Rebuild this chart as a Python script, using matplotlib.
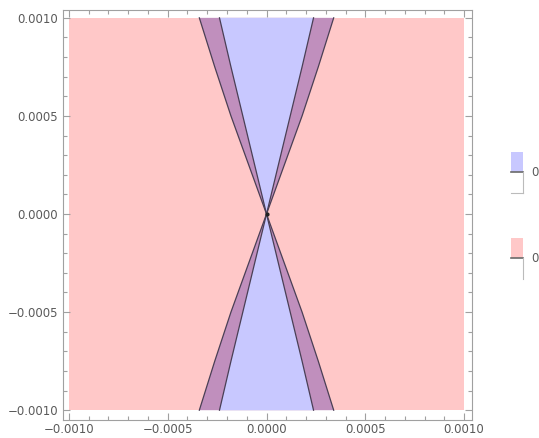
import matplotlib
matplotlib.use("Agg")
import matplotlib.pyplot as plt
import numpy as np
from matplotlib.patches import Rectangle
from matplotlib.lines import Line2D

# |y| levels and half-widths of the two wedge boundaries
y_levels = [0.0, 0.00025, 0.0005, 0.00075, 0.001]
inner_half = [0.0, 0.00006, 0.00012, 0.00018, 0.000238]   # blue / purple boundary
outer_half = [0.0, 0.00009, 0.00018, 0.000262, 0.00034]  # purple / pink boundary
ticks = [-0.001, -0.0005, 0.0, 0.0005, 0.001]
tick_labels = ["\u22120.0010", "\u22120.0005", "0.0000", "0.0005", "0.0010"]
legend_labels = ["0", "0"]

pink = "#ffc8c8"
blue = "#c8c8ff"
purple = "#c08fbd"
edge = "#4a3f55"
frame = "#a0a0a0"

fig = plt.figure(figsize=(5.39, 4.38), dpi=100)
ax = fig.add_axes([63 / 539, 18 / 438, (472 - 63) / 539, (420 - 10) / 438])

# full y from -0.001 to 0.001, both cones
yl = np.array(y_levels)
yy = np.concatenate([-yl[::-1], yl[1:]])
inn = np.concatenate([np.array(inner_half)[::-1], np.array(inner_half)[1:]])
out = np.concatenate([np.array(outer_half)[::-1], np.array(outer_half)[1:]])

lim = y_levels[-1]
ax.add_patch(Rectangle((-lim, -lim), 2 * lim, 2 * lim, facecolor=pink, edgecolor="none", zorder=1))
ax.fill_betweenx(yy, -out, out, facecolor=purple, edgecolor="none", zorder=2)
ax.fill_betweenx(yy, -inn, inn, facecolor=blue, edgecolor="none", zorder=3)
for xs in (-out, out, -inn, inn):
    ax.plot(xs, yy, color=edge, lw=0.9, zorder=4)
ax.plot([0], [0], "o", color="#222222", ms=2, zorder=5)

ax.set_xlim(-0.00103, 0.00104)
ax.set_ylim(-0.00105, 0.00104)
ax.set_xticks(ticks)
ax.set_xticklabels(tick_labels)
ax.set_yticks(ticks)
ax.set_yticklabels(tick_labels)
ax.set_xticks(np.arange(-10, 11) * 0.0001, minor=True)
ax.set_yticks(np.arange(-10, 11) * 0.0001, minor=True)
ax.tick_params(which="both", direction="in", top=True, right=True, color=frame,
               labelcolor="#5a5a5a", labelsize=8.5, width=0.8)
ax.tick_params(which="major", length=5)
ax.tick_params(which="minor", length=3)
ax.tick_params(axis="x", pad=2)
for s in ax.spines.values():
    s.set_color(frame)
    s.set_linewidth(0.8)

# legend drawn in figure pixels
def px(x, y):
    return x / 539, 1 - y / 438

for top, col in ((152, blue), (238, pink)):
    x0, y0 = px(511, top + 20)
    fig.patches.append(Rectangle((x0, y0), 12 / 539, 20 / 438, facecolor=col,
                                 edgecolor="none", transform=fig.transFigure))
    fig.lines.append(Line2D([511 / 539, 523 / 539], [y0, y0], color="#6a6a6a", lw=1.2,
                            transform=fig.transFigure))
    fig.lines.append(Line2D([523 / 539, 523 / 539], [y0, 1 - (top + 41) / 438], color="#bbbbbb",
                            lw=0.8, transform=fig.transFigure))
fig.lines.append(Line2D([511 / 539, 523 / 539], [1 - 193 / 438] * 2, color="#bbbbbb", lw=0.8,
                        transform=fig.transFigure))
for yc, lab in zip((172, 258), legend_labels):
    fig.text(531 / 539, 1 - yc / 438, lab, fontsize=8.5, color="#5a5a5a", va="center", ha="left")

fig.savefig("out.png", dpi=100)
